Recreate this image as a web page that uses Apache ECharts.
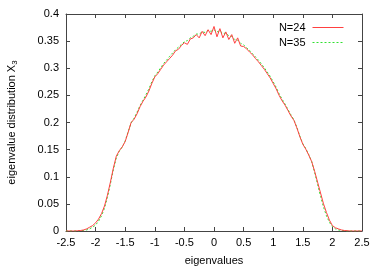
<!DOCTYPE html>
<html><head><meta charset="utf-8">
<script src="https://cdn.jsdelivr.net/npm/echarts@6/dist/echarts.min.js"></script>
<style>html,body{margin:0;padding:0;background:#fff}#c{width:382px;height:267px}</style>
</head><body><div id="c"></div>
<script>
const xs = [-2.5,-2.45,-2.4,-2.35,-2.3,-2.25,-2.2,-2.15,-2.1,-2.05,-2.0,-1.95,-1.9,-1.85,-1.8,-1.75,-1.7,-1.65,-1.6,-1.55,-1.5,-1.45,-1.4,-1.35,-1.3,-1.25,-1.2,-1.15,-1.1,-1.05,-1.0,-0.95,-0.9,-0.85,-0.8,-0.75,-0.7,-0.65,-0.6,-0.55,-0.5,-0.45,-0.4,-0.35,-0.3,-0.25,-0.2,-0.15,-0.1,-0.05,0,0.05,0.1,0.15,0.2,0.25,0.3,0.35,0.4,0.45,0.5,0.55,0.6,0.65,0.7,0.75,0.8,0.85,0.9,0.95,1.0,1.05,1.1,1.15,1.2,1.25,1.3,1.35,1.4,1.45,1.5,1.55,1.6,1.65,1.7,1.75,1.8,1.85,1.9,1.95,2.0,2.05,2.1,2.15,2.2,2.25,2.3,2.35,2.4,2.45,2.5];
const n24 = [0,0,0,0,0.0005,0.001,0.002,0.004,0.007,0.010,0.015,0.022,0.032,0.046,0.066,0.090,0.116,0.138,0.148,0.155,0.165,0.182,0.200,0.206,0.216,0.229,0.239,0.247,0.258,0.272,0.284,0.290,0.298,0.306,0.312,0.318,0.324,0.332,0.335,0.342,0.347,0.344,0.354,0.356,0.362,0.356,0.368,0.360,0.371,0.362,0.377,0.358,0.373,0.356,0.367,0.353,0.362,0.346,0.356,0.341,0.340,0.336,0.330,0.325,0.318,0.312,0.305,0.298,0.290,0.282,0.272,0.262,0.250,0.240,0.232,0.222,0.212,0.204,0.190,0.174,0.160,0.151,0.140,0.128,0.110,0.090,0.070,0.050,0.034,0.020,0.010,0.006,0.004,0.002,0.001,0.0005,0,0,0,0,0];
const n35 = [0,0,0,0,0,0.0005,0.001,0.002,0.004,0.007,0.011,0.018,0.028,0.042,0.062,0.087,0.113,0.135,0.147,0.155,0.166,0.183,0.199,0.208,0.219,0.231,0.241,0.251,0.262,0.275,0.286,0.293,0.301,0.309,0.315,0.322,0.328,0.334,0.339,0.344,0.349,0.351,0.356,0.359,0.363,0.363,0.367,0.366,0.370,0.368,0.371,0.367,0.369,0.364,0.365,0.360,0.359,0.353,0.352,0.346,0.343,0.338,0.333,0.327,0.321,0.315,0.308,0.301,0.293,0.285,0.275,0.265,0.253,0.243,0.234,0.224,0.214,0.205,0.191,0.175,0.161,0.152,0.141,0.128,0.108,0.086,0.064,0.044,0.028,0.016,0.008,0.004,0.002,0.001,0.0005,0,0,0,0,0,0];
const seriesNames = ['N=24','N=35'];
const xName = 'eigenvalues';

const pair = arr => xs.map((x,i)=>[x,arr[i]]);
const font = 'Liberation Sans, Arial, sans-serif';
const axisCol = '#444';
const redCol = '#ff4040', greenCol = '#30e030';
const chart = echarts.init(document.getElementById('c'), null, {renderer:'canvas'});
const tickStyle = {show:true, inside:true, length:4, lineStyle:{color:axisCol}};
const lineAx = {show:true, onZero:false, lineStyle:{color:axisCol}};
chart.setOption({
  animation:false,
  grid:{left:66,right:20,top:14,bottom:36,outerBoundsMode:'none',containLabel:false},
  legend:{
    orient:'vertical', right:33, top:17, align:'right', itemWidth:31, itemHeight:8, itemGap:4,
    itemStyle:{opacity:0},
    textStyle:{fontFamily:font,fontSize:11,color:'#000',padding:[0,2,0,0]},
    data:[
      {name:seriesNames[0], lineStyle:{color:redCol,width:1,type:'solid'}},
      {name:seriesNames[1], lineStyle:{color:greenCol,width:1,type:[2,2]}}
    ]
  },
  xAxis:[{
    type:'value', min:-2.5, max:2.5, interval:0.5,
    name:xName, nameLocation:'middle', nameGap:24,
    nameTextStyle:{fontFamily:font,fontSize:11,color:'#000'},
    axisLine:lineAx,
    axisTick:tickStyle,
    axisLabel:{fontFamily:font,fontSize:11,color:'#000',margin:6},
    splitLine:{show:false}
  },{
    type:'value', min:-2.5, max:2.5, interval:0.5, position:'top',
    axisLine:lineAx,
    axisTick:tickStyle, axisLabel:{show:false}, splitLine:{show:false}
  }],
  yAxis:[{
    type:'value', min:0, max:0.4, interval:0.05,
    name:'{a|eigenvalue distribution X}{b|3}', nameLocation:'middle', nameGap:47, nameRotate:90,
    nameTextStyle:{rich:{a:{fontFamily:font,fontSize:11,color:'#000'},b:{fontFamily:font,fontSize:8,color:'#000',verticalAlign:'bottom',padding:[6,0,0,0]}}},
    axisLine:lineAx,
    axisTick:tickStyle,
    axisLabel:{fontFamily:font,fontSize:11,color:'#000',margin:7},
    splitLine:{show:false}
  },{
    type:'value', min:0, max:0.4, interval:0.05, position:'right',
    axisLine:lineAx,
    axisTick:tickStyle, axisLabel:{show:false}, splitLine:{show:false}
  }],
  series:[
    {name:seriesNames[0], type:'line', data:pair(n24), symbol:'none', lineStyle:{color:redCol,width:1}, itemStyle:{color:redCol}, z:3},
    {name:seriesNames[1], type:'line', data:pair(n35), symbol:'none', lineStyle:{color:greenCol,width:1,type:[2,2]}, itemStyle:{color:greenCol}, z:2}
  ]
});
</script></body></html>
